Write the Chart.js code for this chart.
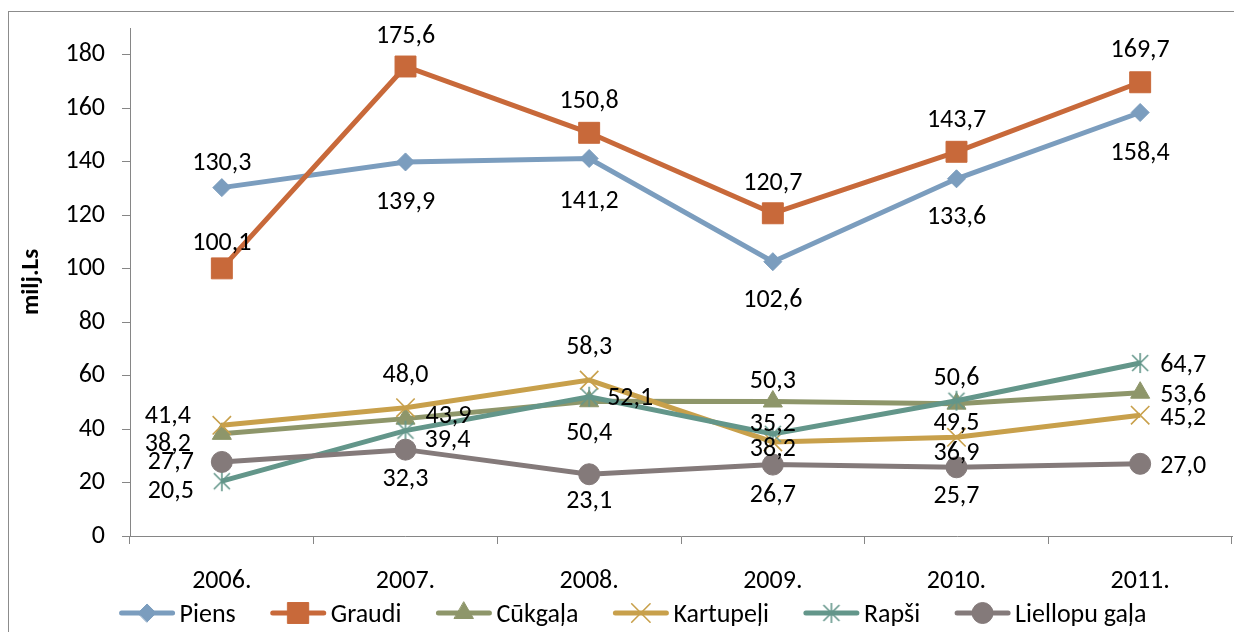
<!DOCTYPE html>
<html><head><meta charset="utf-8">
<script src="https://cdn.jsdelivr.net/npm/chart.js@4.4.1/dist/chart.umd.min.js"></script>
<style>html,body{margin:0;padding:0;background:#fff;overflow:hidden}canvas{display:block}</style>
</head><body><canvas id="c" width="1234" height="632"></canvas>
<script>
// ---- data ----
const categories = ['2006.', '2007.', '2008.', '2009.', '2010.', '2011.'];
const yTickValues = [0, 20, 40, 60, 80, 100, 120, 140, 160, 180];
const seriesNames = ['Piens', 'Graudi', 'Cūkgaļa', 'Kartupeļi', 'Rapši', 'Liellopu gaļa'];
const piens = [130.3, 139.9, 141.2, 102.6, 133.6, 158.4];
const graudi = [100.1, 175.6, 150.8, 120.7, 143.7, 169.7];
const cukgala = [38.2, 43.9, 50.4, 50.3, 49.5, 53.6];
const kartupeli = [41.4, 48.0, 58.3, 35.2, 36.9, 45.2];
const rapsi = [20.5, 39.4, 52.1, 38.2, 50.6, 64.7];
const liellopuGala = [27.7, 32.3, 23.1, 26.7, 25.7, 27.0];
const axisTitle = 'milj.Ls';

// ---- styles ----
const FONT = 'Carlito, Lato, "Open Sans", sans-serif';
const FS = 26;
const colors = ['#7B9DBE', '#C8693A', '#8E966A', '#C8A04B', '#63968A', '#847A7A'];
// label offsets (dx, dy) relative to each point, in pixels
const labelOffsets = [
  [[0,-27],[0,38],[0,40],[0,36],[0,36],[0,38]],
  [[0,-28],[0,-33],[0,-34],[0,-33],[0,-34],[0,-35]],
  [[-54,8],[43,-5],[0,29],[0,-23],[0,17],[43,0]],
  [[-54,-12],[0,-35],[0,-35],[0,-20],[0,13],[43,0]],
  [[-51,7],[42,7],[41,-1],[0,13],[0,-25],[43,0]],
  [[-51,-2],[0,27],[0,24],[0,28],[0,26],[43,0]]
];

function asterisk(color, r, d, lw) {
  const s = Math.ceil(2 * r + lw + 2);
  const c = document.createElement('canvas');
  c.width = c.height = s;
  const x = c.getContext('2d');
  const m = s / 2;
  x.strokeStyle = color; x.lineWidth = lw; x.lineCap = 'butt';
  x.beginPath();
  x.moveTo(m, m - r); x.lineTo(m, m + r);
  x.moveTo(m - d, m - d); x.lineTo(m + d, m + d);
  x.moveTo(m - d, m + d); x.lineTo(m + d, m - d);
  x.stroke();
  return c;
}

const markers = [
  {pointStyle: 'rectRot', radius: 9, bw: 1},
  {pointStyle: 'rect', radius: 14.8, bw: 1},
  {pointStyle: 'triangle', radius: 11, bw: 1},
  {pointStyle: 'crossRot', radius: 13, bw: 1.6},
  {pointStyle: asterisk(colors[4], 10, 8, 1.6), radius: 10, bw: 1.6},
  {pointStyle: 'circle', radius: 10.5, bw: 1}
];

const seriesValues = [piens, graudi, cukgala, kartupeli, rapsi, liellopuGala];

const datasets = seriesValues.map((vals, i) => ({
  label: seriesNames[i],
  data: vals,
  borderColor: colors[i],
  backgroundColor: colors[i],
  borderWidth: 5,
  pointStyle: markers[i].pointStyle,
  pointRadius: markers[i].radius,
  pointBackgroundColor: colors[i],
  pointBorderColor: colors[i],
  pointBorderWidth: markers[i].bw,
  tension: 0,
  fill: false,
  order: 6 - i
}));

const fmt = v => v.toFixed(1).replace('.', ',');

const framePlugin = {
  id: 'frame',
  beforeDraw(chart) {
    const ctx = chart.ctx;
    ctx.save();
    ctx.fillStyle = '#fff';
    ctx.fillRect(0, 0, chart.width, chart.height);
    ctx.strokeStyle = '#8C8C8C';
    ctx.lineWidth = 1;
    ctx.strokeRect(8.5, 11.5, 1400, 800);
    ctx.restore();
  }
};

const labelPlugin = {
  id: 'valueLabels',
  afterDatasetsDraw(chart) {
    const ctx = chart.ctx;
    ctx.save();
    ctx.font = FS + 'px ' + FONT;
    ctx.fillStyle = '#000';
    ctx.textAlign = 'center';
    ctx.textBaseline = 'alphabetic';
    chart.data.datasets.forEach((ds, i) => {
      const meta = chart.getDatasetMeta(i);
      meta.data.forEach((pt, j) => {
        const off = labelOffsets[i][j];
        ctx.fillText(fmt(ds.data[j]), pt.x + off[0], pt.y + off[1] + FS * 0.36);
      });
    });
    ctx.restore();
  }
};

const legendPlugin = {
  id: 'customLegend',
  afterDraw(chart) {
    const ctx = chart.ctx;
    const y = 613, lineLen = 55, textGap = 5, itemGap = 35, centerX = 633;
    ctx.save();
    ctx.font = FS + 'px ' + FONT;
    const widths = chart.data.datasets.map(ds => lineLen + textGap + ctx.measureText(ds.label).width);
    const total = widths.reduce((a, b) => a + b, 0) + itemGap * (widths.length - 1);
    let x = centerX - total / 2;
    chart.data.datasets.forEach((ds, i) => {
      ctx.strokeStyle = ds.borderColor;
      ctx.lineWidth = 5;
      ctx.lineCap = 'round';
      ctx.beginPath();
      ctx.moveTo(x + 2, y); ctx.lineTo(x + lineLen - 2, y);
      ctx.stroke();
      ctx.fillStyle = ds.pointBackgroundColor;
      ctx.strokeStyle = ds.pointBorderColor;
      ctx.lineWidth = ds.pointBorderWidth;
      Chart.helpers.drawPoint(ctx, {pointStyle: ds.pointStyle, radius: ds.pointRadius, rotation: 0, borderWidth: ds.pointBorderWidth}, x + lineLen / 2, y);
      ctx.fillStyle = '#000';
      ctx.textAlign = 'left';
      ctx.textBaseline = 'alphabetic';
      ctx.fillText(ds.label, x + lineLen + textGap, y + FS * 0.36);
      x += widths[i] + itemGap;
    });
    ctx.restore();
  }
};

Chart.defaults.font.family = FONT;
Chart.defaults.font.size = FS;
Chart.defaults.color = '#000';

new Chart(document.getElementById('c'), {
  type: 'line',
  data: {labels: categories, datasets},
  options: {
    responsive: false,
    animation: false,
    layout: {autoPadding: false, padding: {top: 28, right: 2, bottom: 36, left: 0}},
    plugins: {legend: {display: false}, tooltip: {enabled: false}},
    scales: {
      x: {
        type: 'category',
        offset: true,
        grid: {display: true, offset: true, drawOnChartArea: false, tickLength: 8, color: '#868686', lineWidth: 1},
        border: {display: true, color: '#868686', width: 1},
        ticks: {padding: 22, color: '#000', font: {size: FS, family: FONT}, maxRotation: 0},
        afterFit(s) { s.height = 60; s.paddingLeft = 0; s.paddingRight = 0; }
      },
      y: {
        min: 0,
        max: 190,
        afterBuildTicks(s) { s.ticks = yTickValues.map(v => ({value: v})); },
        grid: {display: true, drawOnChartArea: false, tickLength: 8, color: '#868686', lineWidth: 1},
        border: {display: true, color: '#868686', width: 1},
        ticks: {padding: 17, color: '#000', font: {size: FS, family: FONT}},
        title: {display: true, text: axisTitle, color: '#000', font: {size: 25, weight: 'bold', family: FONT}, padding: {top: 17, bottom: 0}},
        afterFit(s) { s.width = 130; s.paddingTop = 0; s.paddingBottom = 0; }
      }
    }
  },
  plugins: [framePlugin, labelPlugin, legendPlugin]
});
</script>
</body></html>
